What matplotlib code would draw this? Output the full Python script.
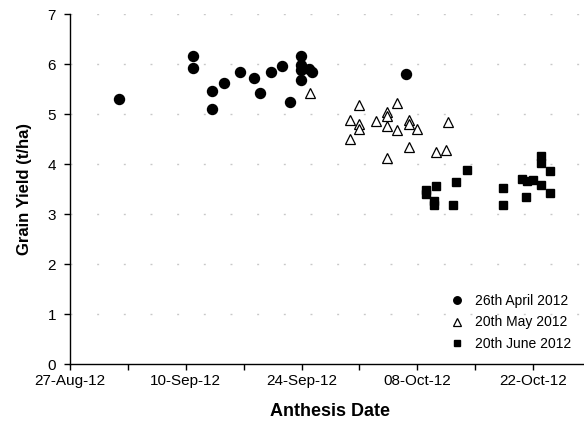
import matplotlib
matplotlib.use("Agg")
import matplotlib.pyplot as plt
import matplotlib.dates as mdates
from matplotlib.ticker import FixedLocator
import pandas as pd

plt.rcParams['font.family'] = ['Liberation Sans', 'DejaVu Sans']

# Sowing-date series: anthesis date and grain yield (t/ha)
april_dates = ["2012-09-01 22:00", "2012-09-10 22:00", "2012-09-10 22:00",
               "2012-09-13 05:00", "2012-09-13 05:00", "2012-09-14 14:00",
               "2012-09-16 14:00", "2012-09-18 07:00", "2012-09-18 22:00",
               "2012-09-20 07:00", "2012-09-21 14:00", "2012-09-22 14:00",
               "2012-09-23 23:00", "2012-09-23 23:00", "2012-09-23 23:00",
               "2012-09-23 23:00", "2012-09-24 22:00", "2012-09-25 07:00",
               "2012-10-06 14:00"]
april_yield = [5.30, 6.15, 5.91, 5.46, 5.09, 5.61, 5.85, 5.72, 5.42, 5.85,
               5.95, 5.23, 6.15, 5.98, 5.88, 5.68, 5.90, 5.83, 5.79]

may_dates = ["2012-09-25 00:00", "2012-09-30 23:00", "2012-10-05 14:00",
             "2012-10-04 07:00", "2012-10-04 07:00", "2012-09-29 22:00",
             "2012-09-30 23:00", "2012-09-30 23:00", "2012-10-03 00:00",
             "2012-10-04 07:00", "2012-10-07 00:00", "2012-10-07 00:00",
             "2012-10-05 14:00", "2012-10-08 00:00", "2012-10-11 17:00",
             "2012-09-29 22:00", "2012-10-07 00:00", "2012-10-04 07:00",
             "2012-10-10 07:00", "2012-10-11 10:00"]
may_yield = [5.41, 5.17, 5.21, 5.04, 4.96, 4.88, 4.79, 4.69, 4.85, 4.77,
             4.87, 4.80, 4.67, 4.69, 4.83, 4.50, 4.33, 4.11, 4.23, 4.28]

june_dates = ["2012-10-14 00:00", "2012-10-12 17:00", "2012-10-10 07:00",
              "2012-10-09 00:00", "2012-10-09 00:00", "2012-10-10 00:00",
              "2012-10-10 00:00", "2012-10-12 07:00", "2012-10-18 10:00",
              "2012-10-18 10:00", "2012-10-20 17:00", "2012-10-21 05:00",
              "2012-10-21 02:00", "2012-10-22 00:00", "2012-10-23 00:00",
              "2012-10-23 00:00", "2012-10-23 00:00", "2012-10-24 02:00",
              "2012-10-24 02:00"]
june_yield = [3.88, 3.64, 3.56, 3.48, 3.40, 3.25, 3.17, 3.18, 3.51, 3.18,
              3.69, 3.66, 3.33, 3.67, 4.15, 4.01, 3.57, 3.85, 3.41]

series_labels = ["26th April 2012", "20th May 2012", "20th June 2012"]
x_start, x_end = "2012-08-27", "2012-10-29"

W, H = 584, 423
fig = plt.figure(figsize=(W / 100, H / 100), dpi=100)
ax = fig.add_axes([70 / W, (H - 364) / H, 521 / W, 350 / H])

ax.plot(pd.to_datetime(april_dates), april_yield, 'o', ms=7.2, color='black',
        mec='black', label=series_labels[0], clip_on=False)
ax.plot(pd.to_datetime(may_dates), may_yield, '^', ms=7, mfc='white',
        mec='black', mew=0.9, label=series_labels[1], clip_on=False)
ax.plot(pd.to_datetime(june_dates), june_yield, 's', ms=6.3, color='black',
        mec='black', label=series_labels[2], clip_on=False)

ax.set_xlim(pd.Timestamp(x_start), pd.Timestamp(x_end))
ax.set_ylim(0, 7)
ax.set_yticks(range(0, 8))

ax.xaxis.set_major_locator(FixedLocator(
    mdates.date2num(pd.date_range(x_start, x_end, freq='14D'))))
ax.xaxis.set_minor_locator(FixedLocator(
    mdates.date2num(pd.date_range(x_start, x_end, freq='7D'))))
ax.xaxis.set_major_formatter(mdates.DateFormatter('%d-%b-%y'))

for s in ['top', 'right']:
    ax.spines[s].set_visible(False)
for s in ['left', 'bottom']:
    ax.spines[s].set_linewidth(1.0)

ax.tick_params(axis='both', which='both', direction='out', length=4, width=1,
               labelsize=11, colors='black')
ax.tick_params(axis='x', which='both', pad=3)
ax.tick_params(axis='y', pad=6)

for yv in range(1, 8):
    ax.axhline(yv, color='#c8c8c8', lw=1.0, dashes=(1.4, 17.8), zorder=0)

ax.set_xlabel('Anthesis Date', fontsize=13, fontweight='bold', labelpad=11)
ax.set_ylabel('Grain Yield (t/ha)', fontsize=12, fontweight='bold', labelpad=11)

ax.legend(loc='lower right', bbox_to_anchor=(578 / W, (H - 358) / H),
          bbox_transform=fig.transFigure, frameon=False, fontsize=10,
          markerscale=0.75, handlelength=1.0, handletextpad=0.8,
          labelspacing=0.55, borderpad=0)

fig.savefig('out.png', dpi=100)
